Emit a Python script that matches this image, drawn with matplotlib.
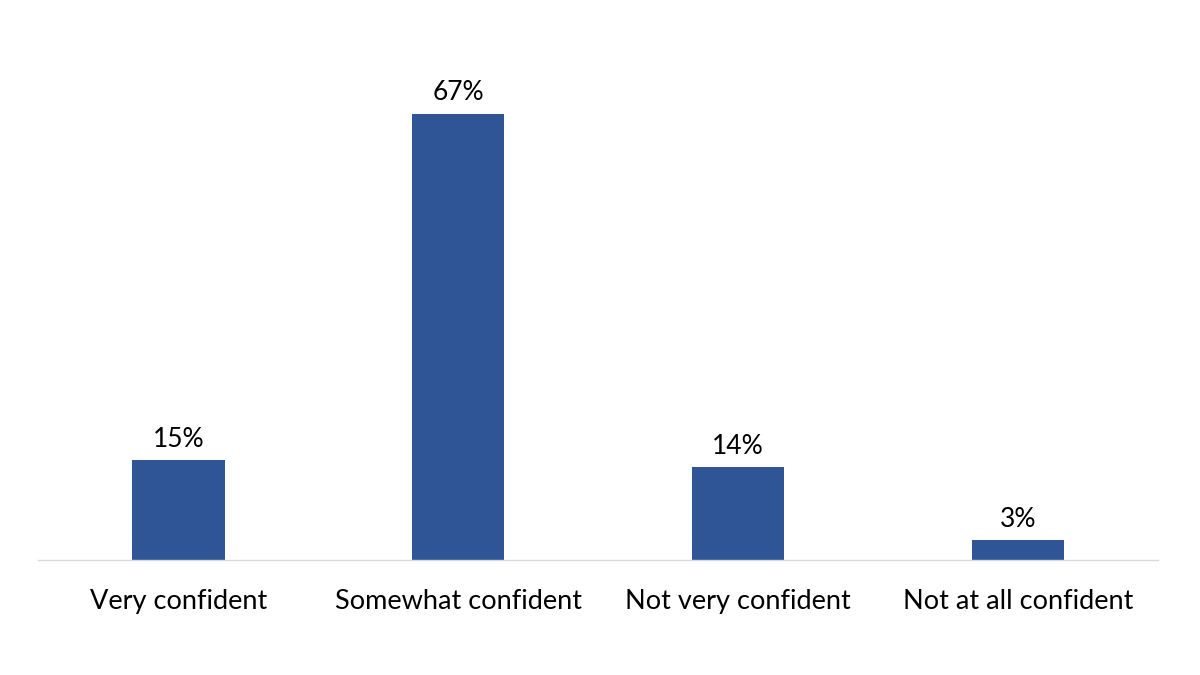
import matplotlib
matplotlib.use("Agg")
import matplotlib.pyplot as plt

categories = ["Very confident", "Somewhat confident", "Not very confident", "Not at all confident"]
values = [15, 67, 14, 3]

plt.rcParams['font.family'] = ['Lato', 'DejaVu Sans']

fig = plt.figure(figsize=(12, 6.75), dpi=100)
ax = fig.add_axes([0.032, 0.170, 0.933, 0.79])

x = range(len(categories))
bars = ax.bar(x, values, width=0.33, color="#2F5597")

for b, v in zip(bars, values):
    ax.annotate(f"{v}%", (b.get_x() + b.get_width() / 2, v),
                xytext=(0, 6), textcoords="offset points",
                ha="center", va="bottom", fontsize=19, color="black")

ax.set_xlim(-0.5, len(categories) - 0.5)
ax.set_ylim(0, 80)
ax.set_xticks(list(x))
ax.set_xticklabels(categories, fontsize=19.5)
ax.tick_params(axis="x", length=0, pad=21)
ax.set_yticks([])
for s in ["top", "right", "left"]:
    ax.spines[s].set_visible(False)
ax.spines["bottom"].set_color("#D9D9D9")
ax.spines["bottom"].set_linewidth(1)

fig.savefig("out.png", dpi=100)
